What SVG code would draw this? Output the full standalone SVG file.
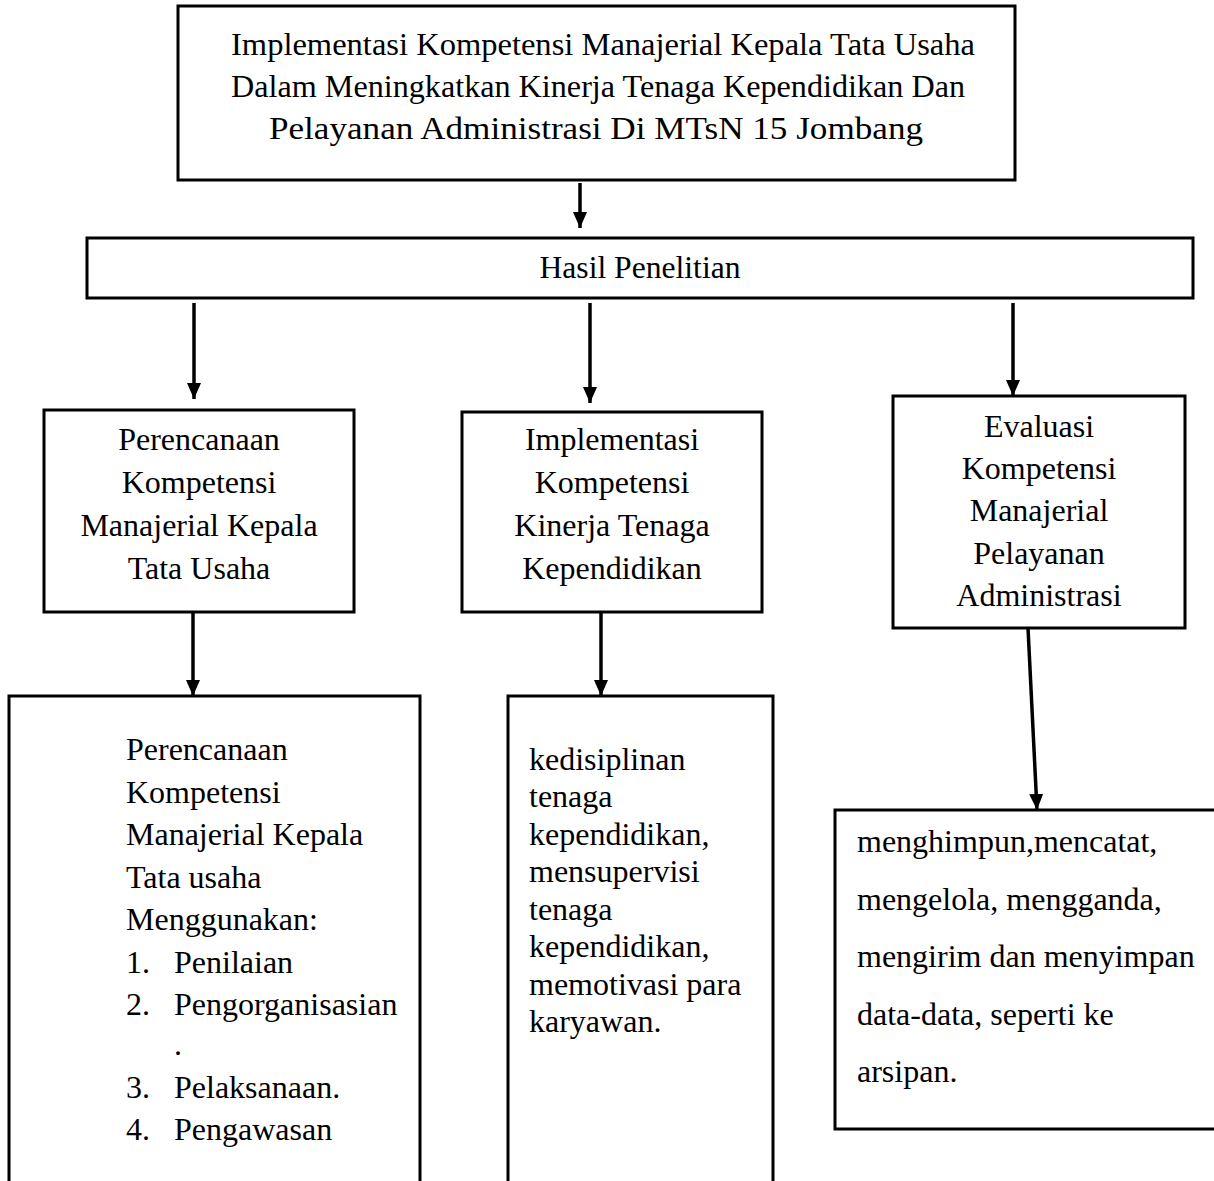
<svg xmlns="http://www.w3.org/2000/svg" width="1214" height="1181" viewBox="0 0 1214 1181">
  <style>
    .box { fill: #ffffff; stroke: #000000; stroke-width: 3; }
    .t { font-family: "Liberation Serif", "Times New Roman", serif; font-size: 32px; fill: #000000; }
    .c { text-anchor: middle; }
    .link { stroke: #000000; stroke-width: 3.5; fill: none; marker-end: url(#head); }
  </style>
  <defs>
    <marker id="head" markerUnits="userSpaceOnUse" markerWidth="16" markerHeight="14" refX="16" refY="7" orient="auto">
      <path d="M0,0 L16,7 L0,14 Z" fill="#000000"/>
    </marker>
  </defs>
  <rect width="1214" height="1181" fill="#ffffff"/>

  <g id="judul">
    <rect class="box" x="178" y="6" width="837" height="174"/>
    <text class="t c" x="603" y="55" textLength="744" lengthAdjust="spacingAndGlyphs">Implementasi Kompetensi Manajerial Kepala Tata Usaha</text>
    <text class="t c" x="598" y="97" textLength="734" lengthAdjust="spacingAndGlyphs">Dalam Meningkatkan Kinerja Tenaga Kependidikan Dan</text>
    <text class="t c" x="596" y="139" textLength="654" lengthAdjust="spacingAndGlyphs">Pelayanan Administrasi Di MTsN 15 Jombang</text>
  </g>

  <g id="hasil">
    <rect class="box" x="87" y="238" width="1106" height="60"/>
    <text class="t c" x="640" y="278" textLength="201" lengthAdjust="spacingAndGlyphs">Hasil Penelitian</text>
  </g>

  <g id="perencanaan">
    <rect class="box" x="44" y="410" width="310" height="202"/>
    <text class="t c" x="199" y="450">Perencanaan</text>
    <text class="t c" x="199" y="493">Kompetensi</text>
    <text class="t c" x="199" y="536">Manajerial Kepala</text>
    <text class="t c" x="199" y="579">Tata Usaha</text>
  </g>

  <g id="implementasi">
    <rect class="box" x="462" y="412" width="300" height="200"/>
    <text class="t c" x="612" y="450">Implementasi</text>
    <text class="t c" x="612" y="493">Kompetensi</text>
    <text class="t c" x="612" y="536">Kinerja Tenaga</text>
    <text class="t c" x="612" y="579">Kependidikan</text>
  </g>

  <g id="evaluasi">
    <rect class="box" x="893" y="396" width="292" height="232"/>
    <text class="t c" x="1039" y="437">Evaluasi</text>
    <text class="t c" x="1039" y="479">Kompetensi</text>
    <text class="t c" x="1039" y="521">Manajerial</text>
    <text class="t c" x="1039" y="564">Pelayanan</text>
    <text class="t c" x="1039" y="606">Administrasi</text>
  </g>

  <g id="rincian-perencanaan">
    <rect class="box" x="9" y="696" width="411" height="500"/>
    <text class="t" x="126" y="760">Perencanaan</text>
    <text class="t" x="126" y="803">Kompetensi</text>
    <text class="t" x="126" y="845">Manajerial Kepala</text>
    <text class="t" x="126" y="888">Tata usaha</text>
    <text class="t" x="126" y="930">Menggunakan:</text>
    <text class="t" x="126" y="973">1.</text><text class="t" x="174" y="973">Penilaian</text>
    <text class="t" x="126" y="1015">2.</text><text class="t" x="174" y="1015">Pengorganisasian</text>
    <text class="t" x="174" y="1055">.</text>
    <text class="t" x="126" y="1098">3.</text><text class="t" x="174" y="1098">Pelaksanaan.</text>
    <text class="t" x="126" y="1140">4.</text><text class="t" x="174" y="1140">Pengawasan</text>
  </g>

  <g id="rincian-implementasi">
    <rect class="box" x="508" y="696" width="265" height="500"/>
    <text class="t" x="529" y="770">kedisiplinan</text>
    <text class="t" x="529" y="807">tenaga</text>
    <text class="t" x="529" y="845">kependidikan,</text>
    <text class="t" x="529" y="882">mensupervisi</text>
    <text class="t" x="529" y="920">tenaga</text>
    <text class="t" x="529" y="957">kependidikan,</text>
    <text class="t" x="529" y="995">memotivasi para</text>
    <text class="t" x="529" y="1032">karyawan.</text>
  </g>

  <g id="rincian-evaluasi">
    <rect class="box" x="835" y="810" width="400" height="319"/>
    <text class="t" x="857" y="852">menghimpun,mencatat,</text>
    <text class="t" x="857" y="910">mengelola, mengganda,</text>
    <text class="t" x="857" y="967">mengirim dan menyimpan</text>
    <text class="t" x="857" y="1025">data-data, seperti ke</text>
    <text class="t" x="857" y="1082">arsipan.</text>
  </g>

  <g id="penghubung">
    <line class="link" x1="580" y1="183" x2="580" y2="228"/>
    <line class="link" x1="194" y1="303" x2="194" y2="399"/>
    <line class="link" x1="590" y1="303" x2="590" y2="403"/>
    <line class="link" x1="1013" y1="303" x2="1013" y2="396"/>
    <line class="link" x1="193" y1="612" x2="193" y2="696"/>
    <line class="link" x1="601" y1="612" x2="601" y2="696"/>
    <line class="link" x1="1028" y1="628" x2="1037" y2="810"/>
  </g>
</svg>
